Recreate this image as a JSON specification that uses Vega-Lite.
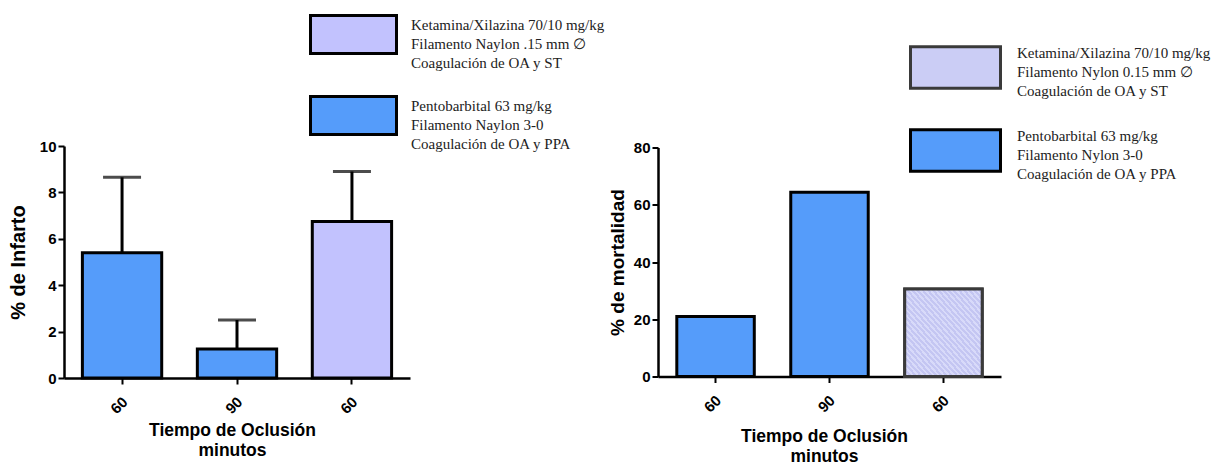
{
  "$schema": "https://vega.github.io/schema/vega-lite/v6.json",
  "autosize": {"type": "pad"},
  "padding": {"left": 8, "top": -10, "right": 0, "bottom": 10},
  "bounds": "flush",
  "center": true,
  "spacing": 248,
  "background": "white",
  "config": {
    "view": {"stroke": null},
    "font": "Liberation Sans",
    "axis": {
      "labelFont": "Liberation Sans", "labelFontWeight": "bold", "labelFontSize": 15, "labelColor": "black",
      "titleFont": "Liberation Sans", "titleFontWeight": "bold", "titleFontSize": 17.5, "titleColor": "black",
      "domainColor": "black", "domainWidth": 2.5, "tickColor": "black", "tickWidth": 2, "tickSize": 6, "grid": false
    },
    "legend": {
      "labelFont": "Liberation Serif", "labelFontSize": 15, "labelColor": "#222", "labelLimit": 400, "padding": 0,
      "symbolStrokeColor": "black", "symbolStrokeWidth": 3, "symbolOpacity": 1
    }
  },
  "resolve": {"scale": {"fill": "independent", "stroke": "independent"}, "legend": {"fill": "independent", "stroke": "independent"}},
  "hconcat": [
    {
      "width": 346,
      "height": 232,
      "data": {"values": [
        {"orden": "a", "tiempo": "60", "tratamiento": "PB", "infarto": 5.4, "superior": 8.65},
        {"orden": "b", "tiempo": "90", "tratamiento": "PB", "infarto": 1.25, "superior": 2.5},
        {"orden": "c", "tiempo": "60", "tratamiento": "KX", "infarto": 6.75, "superior": 8.9}
      ]},
      "layer": [
        {
          "mark": {"type": "bar", "stroke": "black", "strokeWidth": 3, "strokeJoin": "miter"},
          "encoding": {
            "x": {"field": "orden", "type": "nominal", "sort": null,
              "scale": {"paddingInner": 0.31, "paddingOuter": 0.16},
              "axis": {"labelAngle": -45, "labelExpr": "datum.value == 'b' ? '90' : '60'", "labelPadding": 10, "labelOffset": -2,
                "title": ["Tiempo de Oclusión", "minutos"], "titlePadding": 5, "titleLineHeight": 20, "titleX": 168}},
            "y": {"field": "infarto", "type": "quantitative", "scale": {"domain": [0, 10]},
              "axis": {"values": [0, 2, 4, 6, 8, 10], "title": "% de Infarto", "titlePadding": 11, "titleFontSize": 20}},
            "fill": {"field": "tratamiento", "type": "nominal",
              "scale": {"domain": ["KX", "PB"], "range": ["#c2c2fe", "#559cfa"]},
              "legend": {"orient": "none", "legendX": 245, "legendY": -156, "title": null,
                "symbolType": "M-1,-0.44L1,-0.44L1,0.44L-1,0.44Z", "symbolSize": 7396,
                "labelOffset": 13, "rowPadding": -30,
                "encode": {"labels": {"update": {"dy": {"value": -10}, "lineHeight": {"value": 19}}}},
                "labelExpr": "datum.value == 'KX' ? ['Ketamina/Xilazina 70/10 mg/kg', 'Filamento Naylon .15 mm ∅', 'Coagulación de OA y ST'] : ['Pentobarbital 63 mg/kg', 'Filamento Naylon 3-0', 'Coagulación de OA y PPA']"}}
          }
        },
        {
          "mark": {"type": "rule", "strokeWidth": 3, "color": "black"},
          "encoding": {
            "x": {"field": "orden", "type": "nominal", "sort": null},
            "y": {"field": "infarto", "type": "quantitative", "title": "% de Infarto"},
            "y2": {"field": "superior"}
          }
        },
        {
          "mark": {"type": "tick", "thickness": 3, "size": 38, "color": "black", "orient": "horizontal"},
          "encoding": {
            "x": {"field": "orden", "type": "nominal", "sort": null},
            "y": {"field": "superior", "type": "quantitative", "title": "% de Infarto"}
          }
        }
      ]
    },
    {
      "width": 343,
      "height": 229,
      "data": {"values": [
        {"orden": "a", "tiempo": "60", "tratamiento": "PB", "mortalidad": 21},
        {"orden": "b", "tiempo": "90", "tratamiento": "PB", "mortalidad": 64.4},
        {"orden": "c", "tiempo": "60", "tratamiento": "KX", "mortalidad": 30.6}
      ]},
      "layer": [
        {
          "mark": {"type": "bar", "strokeWidth": 3, "strokeJoin": "miter"},
          "encoding": {
            "x": {"field": "orden", "type": "nominal", "sort": null,
              "scale": {"paddingInner": 0.32, "paddingOuter": 0.165},
              "axis": {"labelAngle": -45, "labelExpr": "datum.value == 'b' ? '90' : '60'", "labelPadding": 10, "labelOffset": -2,
                "title": ["Tiempo de Oclusión", "minutos"], "titlePadding": 13, "titleLineHeight": 20, "titleX": 166}},
            "y": {"field": "mortalidad", "type": "quantitative", "scale": {"domain": [0, 80]},
              "axis": {"values": [0, 20, 40, 60, 80], "title": "% de mortalidad", "titlePadding": 6, "titleFontSize": 19}},
            "fill": {"field": "tratamiento", "type": "nominal",
              "scale": {"domain": ["KX", "PB"], "range": ["#cbcdf5", "#559cfa"]},
              "legend": {"orient": "none", "legendX": 251, "legendY": -126.5, "title": null,
                "symbolType": "M-1,-0.46L1,-0.46L1,0.46L-1,0.46Z", "symbolSize": 8100,
                "labelOffset": 15, "rowPadding": 5,
                "encode": {"labels": {"update": {"dy": {"value": -15}, "lineHeight": {"value": 19}}}},
                "labelExpr": "datum.value == 'KX' ? ['Ketamina/Xilazina 70/10 mg/kg', 'Filamento Nylon 0.15 mm ∅', 'Coagulación de OA y ST'] : ['Pentobarbital 63 mg/kg', 'Filamento Nylon 3-0', 'Coagulación de OA y PPA']"}},
            "stroke": {"field": "tratamiento", "type": "nominal",
              "scale": {"domain": ["KX", "PB"], "range": ["#3a3a3a", "black"]},
              "legend": {"orient": "none", "legendX": 251, "legendY": -126.5, "title": null,
                "symbolType": "M-1,-0.46L1,-0.46L1,0.46L-1,0.46Z", "symbolSize": 8100,
                "labelOffset": 15, "rowPadding": 5,
                "encode": {"labels": {"update": {"dy": {"value": -15}, "lineHeight": {"value": 19}}}},
                "labelExpr": "datum.value == 'KX' ? ['Ketamina/Xilazina 70/10 mg/kg', 'Filamento Nylon 0.15 mm ∅', 'Coagulación de OA y ST'] : ['Pentobarbital 63 mg/kg', 'Filamento Nylon 3-0', 'Coagulación de OA y PPA']"}}
          }
        },
        {
          "transform": [{"filter": "datum.tratamiento == 'KX'"}],
          "mark": {"type": "bar", "strokeWidth": 3, "strokeJoin": "miter", "stroke": "#3a3a3a",
            "fill": {"gradient": "linear", "x1": 0, "y1": 1, "x2": 1, "y2": 0, "stops": [
              {"offset": 0, "color": "#c4c6f2"}, {"offset": 0.0183, "color": "#c4c6f2"}, {"offset": 0.0183, "color": "#d8daf9"}, {"offset": 0.0333, "color": "#d8daf9"},
              {"offset": 0.0333, "color": "#c4c6f2"}, {"offset": 0.0517, "color": "#c4c6f2"}, {"offset": 0.0517, "color": "#d8daf9"}, {"offset": 0.0667, "color": "#d8daf9"},
              {"offset": 0.0667, "color": "#c4c6f2"}, {"offset": 0.085, "color": "#c4c6f2"}, {"offset": 0.085, "color": "#d8daf9"}, {"offset": 0.1, "color": "#d8daf9"},
              {"offset": 0.1, "color": "#c4c6f2"}, {"offset": 0.1183, "color": "#c4c6f2"}, {"offset": 0.1183, "color": "#d8daf9"}, {"offset": 0.1333, "color": "#d8daf9"},
              {"offset": 0.1333, "color": "#c4c6f2"}, {"offset": 0.1517, "color": "#c4c6f2"}, {"offset": 0.1517, "color": "#d8daf9"}, {"offset": 0.1667, "color": "#d8daf9"},
              {"offset": 0.1667, "color": "#c4c6f2"}, {"offset": 0.185, "color": "#c4c6f2"}, {"offset": 0.185, "color": "#d8daf9"}, {"offset": 0.2, "color": "#d8daf9"},
              {"offset": 0.2, "color": "#c4c6f2"}, {"offset": 0.2183, "color": "#c4c6f2"}, {"offset": 0.2183, "color": "#d8daf9"}, {"offset": 0.2333, "color": "#d8daf9"},
              {"offset": 0.2333, "color": "#c4c6f2"}, {"offset": 0.2517, "color": "#c4c6f2"}, {"offset": 0.2517, "color": "#d8daf9"}, {"offset": 0.2667, "color": "#d8daf9"},
              {"offset": 0.2667, "color": "#c4c6f2"}, {"offset": 0.285, "color": "#c4c6f2"}, {"offset": 0.285, "color": "#d8daf9"}, {"offset": 0.3, "color": "#d8daf9"},
              {"offset": 0.3, "color": "#c4c6f2"}, {"offset": 0.3183, "color": "#c4c6f2"}, {"offset": 0.3183, "color": "#d8daf9"}, {"offset": 0.3333, "color": "#d8daf9"},
              {"offset": 0.3333, "color": "#c4c6f2"}, {"offset": 0.3517, "color": "#c4c6f2"}, {"offset": 0.3517, "color": "#d8daf9"}, {"offset": 0.3667, "color": "#d8daf9"},
              {"offset": 0.3667, "color": "#c4c6f2"}, {"offset": 0.385, "color": "#c4c6f2"}, {"offset": 0.385, "color": "#d8daf9"}, {"offset": 0.4, "color": "#d8daf9"},
              {"offset": 0.4, "color": "#c4c6f2"}, {"offset": 0.4183, "color": "#c4c6f2"}, {"offset": 0.4183, "color": "#d8daf9"}, {"offset": 0.4333, "color": "#d8daf9"},
              {"offset": 0.4333, "color": "#c4c6f2"}, {"offset": 0.4517, "color": "#c4c6f2"}, {"offset": 0.4517, "color": "#d8daf9"}, {"offset": 0.4667, "color": "#d8daf9"},
              {"offset": 0.4667, "color": "#c4c6f2"}, {"offset": 0.485, "color": "#c4c6f2"}, {"offset": 0.485, "color": "#d8daf9"}, {"offset": 0.5, "color": "#d8daf9"},
              {"offset": 0.5, "color": "#c4c6f2"}, {"offset": 0.5183, "color": "#c4c6f2"}, {"offset": 0.5183, "color": "#d8daf9"}, {"offset": 0.5333, "color": "#d8daf9"},
              {"offset": 0.5333, "color": "#c4c6f2"}, {"offset": 0.5517, "color": "#c4c6f2"}, {"offset": 0.5517, "color": "#d8daf9"}, {"offset": 0.5667, "color": "#d8daf9"},
              {"offset": 0.5667, "color": "#c4c6f2"}, {"offset": 0.585, "color": "#c4c6f2"}, {"offset": 0.585, "color": "#d8daf9"}, {"offset": 0.6, "color": "#d8daf9"},
              {"offset": 0.6, "color": "#c4c6f2"}, {"offset": 0.6183, "color": "#c4c6f2"}, {"offset": 0.6183, "color": "#d8daf9"}, {"offset": 0.6333, "color": "#d8daf9"},
              {"offset": 0.6333, "color": "#c4c6f2"}, {"offset": 0.6517, "color": "#c4c6f2"}, {"offset": 0.6517, "color": "#d8daf9"}, {"offset": 0.6667, "color": "#d8daf9"},
              {"offset": 0.6667, "color": "#c4c6f2"}, {"offset": 0.685, "color": "#c4c6f2"}, {"offset": 0.685, "color": "#d8daf9"}, {"offset": 0.7, "color": "#d8daf9"},
              {"offset": 0.7, "color": "#c4c6f2"}, {"offset": 0.7183, "color": "#c4c6f2"}, {"offset": 0.7183, "color": "#d8daf9"}, {"offset": 0.7333, "color": "#d8daf9"},
              {"offset": 0.7333, "color": "#c4c6f2"}, {"offset": 0.7517, "color": "#c4c6f2"}, {"offset": 0.7517, "color": "#d8daf9"}, {"offset": 0.7667, "color": "#d8daf9"},
              {"offset": 0.7667, "color": "#c4c6f2"}, {"offset": 0.785, "color": "#c4c6f2"}, {"offset": 0.785, "color": "#d8daf9"}, {"offset": 0.8, "color": "#d8daf9"},
              {"offset": 0.8, "color": "#c4c6f2"}, {"offset": 0.8183, "color": "#c4c6f2"}, {"offset": 0.8183, "color": "#d8daf9"}, {"offset": 0.8333, "color": "#d8daf9"},
              {"offset": 0.8333, "color": "#c4c6f2"}, {"offset": 0.8517, "color": "#c4c6f2"}, {"offset": 0.8517, "color": "#d8daf9"}, {"offset": 0.8667, "color": "#d8daf9"},
              {"offset": 0.8667, "color": "#c4c6f2"}, {"offset": 0.885, "color": "#c4c6f2"}, {"offset": 0.885, "color": "#d8daf9"}, {"offset": 0.9, "color": "#d8daf9"},
              {"offset": 0.9, "color": "#c4c6f2"}, {"offset": 0.9183, "color": "#c4c6f2"}, {"offset": 0.9183, "color": "#d8daf9"}, {"offset": 0.9333, "color": "#d8daf9"},
              {"offset": 0.9333, "color": "#c4c6f2"}, {"offset": 0.9517, "color": "#c4c6f2"}, {"offset": 0.9517, "color": "#d8daf9"}, {"offset": 0.9667, "color": "#d8daf9"},
              {"offset": 0.9667, "color": "#c4c6f2"}, {"offset": 0.985, "color": "#c4c6f2"}, {"offset": 0.985, "color": "#d8daf9"}, {"offset": 1, "color": "#d8daf9"}
            ]}},
          "encoding": {
            "x": {"field": "orden", "type": "nominal", "sort": null},
            "y": {"field": "mortalidad", "type": "quantitative", "title": "% de mortalidad"}
          }
        }
      ]
    }
  ]
}
